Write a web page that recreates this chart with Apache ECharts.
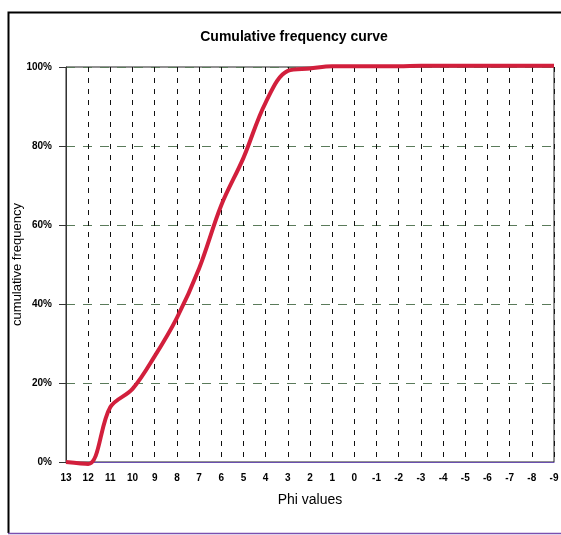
<!DOCTYPE html>
<html>
<head>
<meta charset="utf-8">
<script src="https://cdn.jsdelivr.net/npm/echarts@6/dist/echarts.min.js"></script>
<style>
html,body{margin:0;padding:0;background:#fff;}
#c{width:561px;height:535px;}
</style>
</head>
<body>
<div id="c"></div>
<script>
const phiCategories = ['13','12','11','10','9','8','7','6','5','4','3','2','1','0','-1','-2','-3','-4','-5','-6','-7','-8','-9'];
const cumulativeValues = [0, -0.5, 13.9, 18.5, 26.8, 36.5, 49, 65, 77, 91, 99, 99.6, 100.2, 100.2, 100.2, 100.2, 100.3, 100.3, 100.3, 100.3, 100.3, 100.3, 100.3];
const yTicks = [0, 20, 40, 60, 80, 100];

const chart = echarts.init(document.getElementById('c'));
const font = "Liberation Sans, Arial, sans-serif";
chart.setOption({
  animation: false,
  backgroundColor: '#fff',
  graphic: [{
    type: 'polyline',
    shape: { points: [[8.5, 533], [8.5, 12.5], [570, 12.5]] },
    style: { stroke: '#000', lineWidth: 2, fill: null },
    silent: true
  }, {
    type: 'line',
    shape: { x1: 8, y1: 533.5, x2: 561, y2: 533.5 },
    style: { stroke: '#7a4fb0', lineWidth: 1.5 },
    silent: true
  }],
  title: {
    text: 'Cumulative frequency curve',
    left: 289, top: 25, textAlign: 'center',
    textStyle: { fontFamily: font, fontSize: 14, fontWeight: 'bold', color: '#000' }
  },
  grid: { left: 66, right: 7, top: 67, bottom: 73, outerBoundsMode: 'none', containLabel: false, show: true, borderColor: '#222', borderWidth: 1, backgroundColor: 'transparent' },
  xAxis: {
    type: 'category',
    data: phiCategories,
    boundaryGap: false,
    name: 'Phi values',
    nameLocation: 'middle',
    nameGap: 31,
    nameMoveOverlap: false,
    nameTextStyle: { fontFamily: font, fontSize: 14, color: '#000' },
    axisLine: { lineStyle: { color: '#6a4fb0', width: 1.2 } },
    axisTick: { show: false },
    axisLabel: { fontFamily: font, fontSize: 10, fontWeight: 'bold', color: '#000', margin: 11, interval: 0 },
    splitLine: { show: true, interval: 0, lineStyle: { color: '#111', type: [5, 6], width: 1 } }
  },
  yAxis: {
    type: 'value',
    min: 0, max: 100, interval: 20,
    name: 'cumulative frequency',
    nameLocation: 'middle',
    nameGap: 42,
    nameMoveOverlap: false,
    nameRotate: 90,
    nameTextStyle: { fontFamily: font, fontSize: 13, color: '#000' },
    axisLine: { show: true, lineStyle: { color: '#333', width: 1 } },
    axisTick: { show: true, length: 7, lineStyle: { color: '#333' } },
    axisLabel: {
      fontFamily: font, fontSize: 10, fontWeight: 'bold', color: '#000', margin: 14,
      formatter: v => yTicks.includes(v) ? v + '%' : ''
    },
    splitLine: { show: true, lineStyle: { color: '#5a7a5a', type: [9, 8], width: 1 } }
  },
  series: [{
    type: 'line',
    data: cumulativeValues,
    smooth: 0.35,
    symbol: 'none',
    clip: false,
    lineStyle: { color: '#d21f3c', width: 4 }
  }]
});
</script>
</body>
</html>
